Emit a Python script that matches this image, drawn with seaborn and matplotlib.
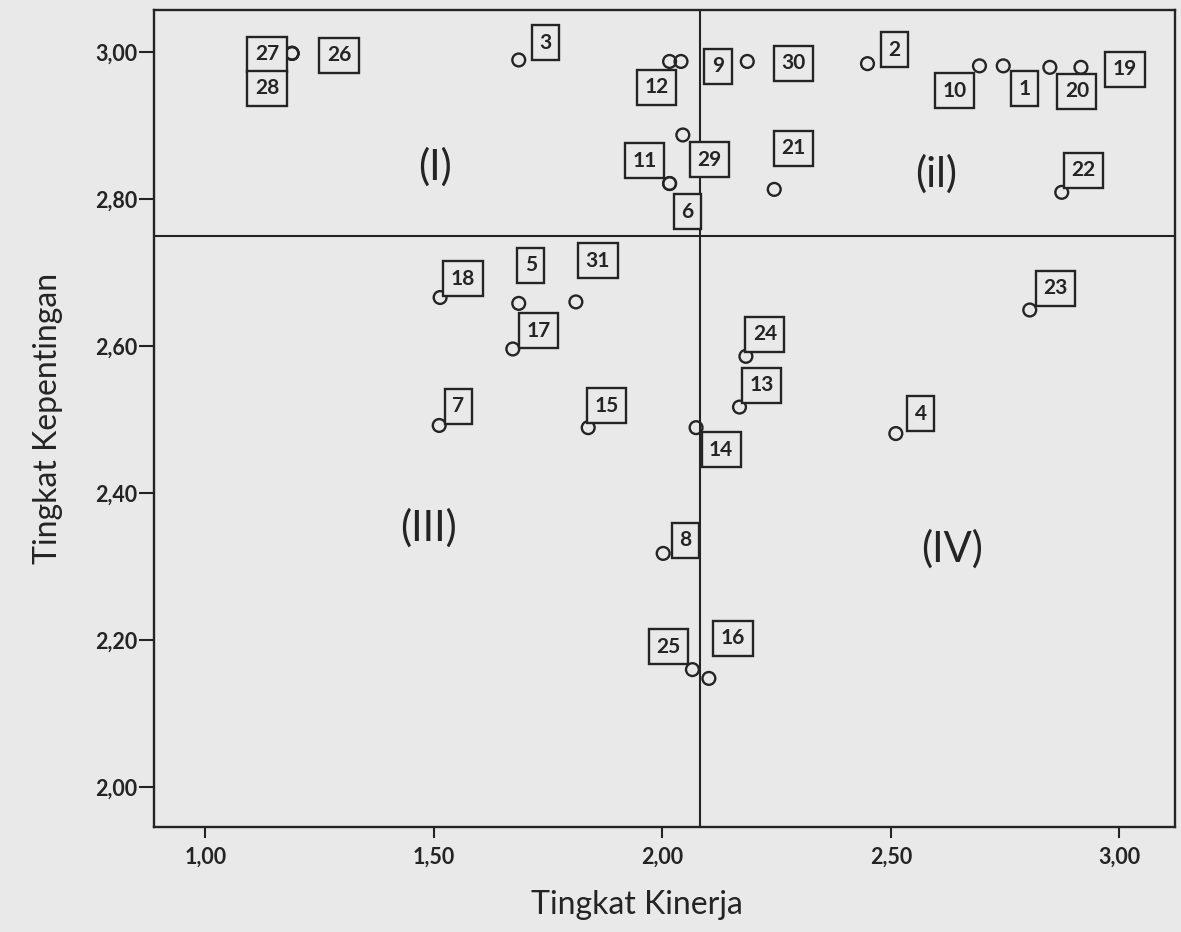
import matplotlib
matplotlib.use('Agg')
import matplotlib.pyplot as plt
import numpy as np
import pandas as pd
import seaborn as sns

# data (Tingkat Kinerja vs Tingkat Kepentingan)
labels = ['1', '2', '3', '4', '5', '6', '7', '8', '9', '10',
          '11', '12', '13', '14', '15', '16', '17', '18', '19', '20',
          '21', '22', '23', '24', '25', '26', '27', '28', '29', '30', '31']
kinerja = [2.746, 2.449, 1.686, 2.511, 1.686, 2.016, 1.512, 2.002, 2.041, 2.694,
           2.016, 2.016, 2.169, 2.074, 1.838, 2.102, 1.673, 1.514, 2.916, 2.848,
           2.245, 2.874, 2.804, 2.183, 2.066, 1.190, 1.190, 1.190, 2.045, 2.186, 1.811]
kepentingan = [2.981, 2.984, 2.989, 2.481, 2.658, 2.821, 2.492, 2.318, 2.987, 2.981,
               2.821, 2.987, 2.517, 2.489, 2.489, 2.148, 2.596, 2.666, 2.979, 2.979,
               2.813, 2.809, 2.649, 2.586, 2.160, 2.998, 2.998, 2.998, 2.887, 2.987, 2.660]
kinerja_mean = 2.083
kepentingan_mean = 2.75
x_ticks = [1.0, 1.5, 2.0, 2.5, 3.0]
y_ticks = [2.0, 2.2, 2.4, 2.6, 2.8, 3.0]
quadrants = ['(I)', '(il)', '(III)', '(IV)']

# label box offsets in pixels (dx, dy up)
offsets = {'1': (21, -23), '2': (27, 14), '3': (27, 17), '4': (25, 20), '5': (12, 38),
           '6': (18, -28), '7': (19, 19), '8': (22, 13), '9': (37, -5), '10': (-25, -25),
           '11': (-25, 23), '12': (-13, -26), '13': (22, 22), '14': (25, -22), '15': (18, 22),
           '16': (24, 40), '17': (26, 18), '18': (23, 19), '19': (44, -2), '20': (27, -24),
           '21': (19, 41), '22': (22, 22), '23': (26, 22), '24': (19, 22), '25': (-24, 23),
           '26': (47, -2), '27': (-25, -1), '28': (-25, -35), '29': (27, -25), '30': (46, -2),
           '31': (22, 41)}

df = pd.DataFrame({'no': labels, 'Tingkat Kinerja': kinerja, 'Tingkat Kepentingan': kepentingan})

bg = '#e9e9e9'
ink = '#242424'
sns.set_theme(style='white')
plt.rcParams['font.family'] = ['Lato', 'DejaVu Sans']

fig = plt.figure(figsize=(11.81, 9.32), dpi=100, facecolor=bg)
ax = fig.add_axes([0.1304, 0.1127, 0.8646, 0.8766], facecolor=bg)

sns.scatterplot(data=df, x='Tingkat Kinerja', y='Tingkat Kepentingan', ax=ax,
                marker='o', s=85, facecolor='none', edgecolor=ink, linewidth=1.7, zorder=4)

# garis kuadran
ax.axvline(kinerja_mean, color=ink, lw=1.5, zorder=2)
ax.axhline(kepentingan_mean, color=ink, lw=1.5, zorder=2)

for lab, xv, yv in zip(labels, kinerja, kepentingan):
    dx, dy = offsets[lab]
    ax.annotate(lab, (xv, yv), xytext=(dx, dy), textcoords='offset pixels',
                ha='center', va='center', fontsize=15, fontweight='bold', color=ink,
                bbox=dict(boxstyle='square,pad=0.36', facecolor=bg, edgecolor=ink, lw=1.7),
                zorder=5)

# label kuadran
quad_pos = [(0.275, 0.808), (0.766, 0.799), (0.269, 0.366), (0.782, 0.340)]
for q, (qx, qy) in zip(quadrants, quad_pos):
    ax.text(qx, qy, q, transform=ax.transAxes, ha='center', va='center',
            fontsize=30, color=ink)

ax.set_xlim(0.888, 3.122)
ax.set_ylim(1.946, 3.057)
ax.set_xticks(x_ticks)
ax.set_yticks(y_ticks)
ax.set_xticklabels([f'{t:.2f}'.replace('.', ',') for t in x_ticks])
ax.set_yticklabels([f'{t:.2f}'.replace('.', ',') for t in y_ticks])
ax.tick_params(axis='x', direction='out', length=8, width=1.5, color=ink, pad=6,
               labelsize=15.5, labelcolor=ink, bottom=True)
ax.tick_params(axis='y', direction='out', length=11, width=1.5, color=ink, pad=1,
               labelsize=15.5, labelcolor=ink, left=True)
for t in ax.get_xticklabels() + ax.get_yticklabels():
    t.set_fontweight('bold')
for sp in ax.spines.values():
    sp.set_color(ink)
    sp.set_linewidth(1.7)

ax.set_xlabel('Tingkat Kinerja', fontsize=23, color=ink)
ax.set_ylabel('Tingkat Kepentingan', fontsize=23, color=ink)
ax.xaxis.set_label_coords(0.473, -0.095)
ax.xaxis.label.set_va('center')
ax.yaxis.set_label_coords(-0.104, 0.5)
ax.yaxis.label.set_va('center')

fig.savefig('out.png', dpi=100, facecolor=bg)
